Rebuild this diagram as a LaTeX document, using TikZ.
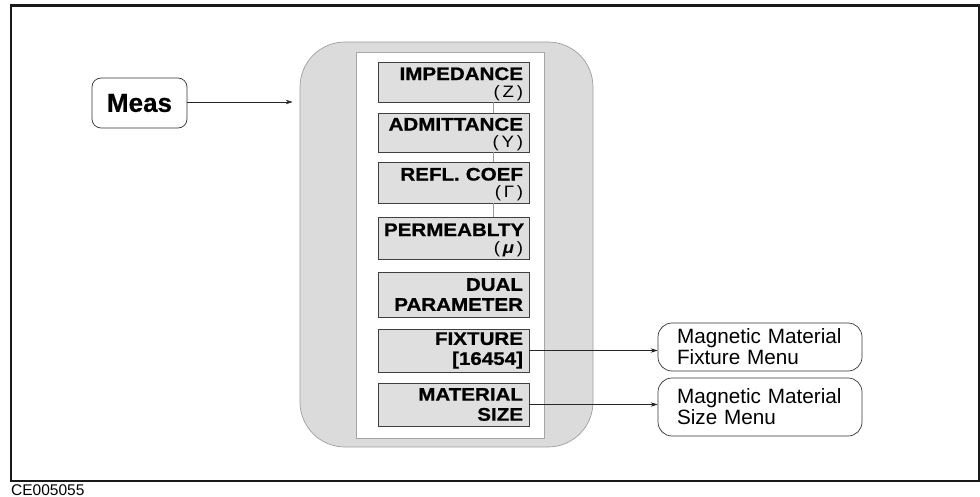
\documentclass[tikz,border=0pt]{standalone}
\usepackage{fontspec}
\setmainfont{Liberation Sans}[BoldFeatures={FakeBold=0.6}]
\newfontfamily\wsans{Liberation Sans}[FakeStretch=1.13, BoldFeatures={FakeBold=0.8}]
\usetikzlibrary{arrows.meta}
\newcommand{\btnfont}{\wsans\bfseries\fontsize{18.2}{20}\selectfont}
\newcommand{\subfont}{\wsans\mdseries\fontsize{16.5}{17}\selectfont}
\newcommand{\topstrut}{\rule{0pt}{16.5pt}}
\begin{document}
\begin{tikzpicture}[x=1pt,y=-1pt,
  btn/.style={draw=black!75, line width=0.9pt, fill=gray!25, minimum width=151pt,
    text width=139pt, align=right, inner xsep=6pt, inner ysep=0pt, font=\btnfont},
  gbtn/.style={btn, font={\btnfont\fontsize{18.2}{17}\selectfont}},
  menu/.style={draw=black!80, line width=0.7pt, rounded corners=14pt, minimum width=204pt,
    text width=166pt, align=left, inner xsep=19pt, inner ysep=0pt,
    font=\fontsize{20.7}{21}\selectfont},
  arr/.style={draw=black!85, line width=0.7pt, -{Stealth[length=7pt,width=4.5pt]}},
  link/.style={draw=gray!80, line width=0.8pt}
]
\useasboundingbox (0,0) rectangle (980,497);
\node[draw=black!90, line width=2.5pt, minimum width=968pt, minimum height=475.5pt,
  inner sep=0pt] (frame) at (495,243.25) {};
\node[anchor=base west, inner sep=0pt, font=\fontsize{15.5}{17}\selectfont] (code) at (11,495) {CE005055};

\node[draw=gray!75, line width=0.7pt, fill=gray!28, rounded corners=45pt,
  minimum width=293pt, minimum height=405pt, inner sep=0pt] (outer) at (446.5,244.5) {};
\node[draw=gray!70, line width=0.8pt, fill=white, minimum width=188pt,
  minimum height=386pt, inner sep=0pt] (inner) at (450,245) {};

\node[gbtn, minimum height=40pt] (imp) at (453.5,82) {\topstrut IMPEDANCE\\{\subfont(\,Z\,)}};
\node[gbtn, minimum height=39pt] (adm) at (453.5,132.5) {\topstrut ADMITTANCE\\{\subfont(\,Y\,)}};
\node[gbtn, minimum height=41pt] (refl) at (453.5,182.5) {\topstrut REFL. COEF\\{\subfont(\,Γ\,)}};
\node[gbtn, minimum height=42pt] (perm) at (453.5,238) {\topstrut PERMEABLTY\\{\subfont(\,{\bfseries\itshape μ}\,)}};
\node[btn, minimum height=45pt] (dual) at (453.5,294.5) {DUAL\\PARAMETER};
\node[btn, minimum height=43pt] (fix) at (453.5,350.5) {FIXTURE\\{[16454]}};
\node[btn, minimum height=43pt] (mat) at (453.5,404.5) {MATERIAL\\SIZE};

\coordinate (lx) at (493,0);
\draw[link] (imp.south -| lx) -- (adm.north -| lx);
\draw[link] (adm.south -| lx) -- (refl.north -| lx);
\draw[link] (refl.south -| lx) -- (perm.north -| lx);

\node[draw=black!80, line width=0.7pt, rounded corners=9pt, minimum width=95pt,
  minimum height=50pt, inner sep=0pt, font=\bfseries\fontsize{26}{28}\selectfont]
  (meas) at (139.5,103) {Meas};

\node[menu, minimum height=48pt] (mfix) at (760,347) {Magnetic Material\\Fixture Menu};
\node[menu, minimum height=58pt] (msize) at (760,407) {Magnetic Material\\Size Menu};

\draw[arr, shorten >=7pt] (meas.east |- 0,102) -- (outer.west |- 0,102);
\draw[arr] (fix.east) -- (fix.east -| mfix.west);
\draw[arr] (mat.east) -- (mat.east -| msize.west);
\end{tikzpicture}
\end{document}
